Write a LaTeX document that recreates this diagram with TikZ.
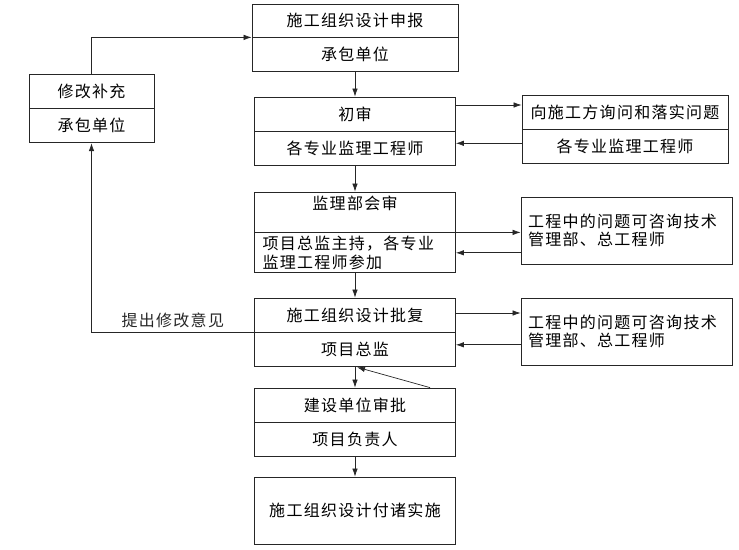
\documentclass[tikz,border=0pt]{standalone}
\usepackage{fontspec}
\usepackage{tikz}
\usetikzlibrary{arrows.meta,positioning}
\newfontfamily\cjk[LetterSpace=8]{Noto Sans CJK SC}
\tikzset{every node/.style={font=\cjk\fontsize{16}{18.5}\selectfont}}
\colorlet{boxcol}{black!85}
\colorlet{arrowcol}{black!85}
\colorlet{textcol}{black}
\tikzset{
  cell/.style={draw=boxcol, line width=0.8pt, minimum width=201pt,
    minimum height=34pt, inner sep=0pt, text=textcol},
  arr/.style={-{Latex[length=8pt,width=5.5pt]}, line width=0.7pt, arrowcol},
}

\begin{document}
\begin{tikzpicture}[x=1pt, y=-1pt]
  \useasboundingbox (0,0) rectangle (739,549);

  % Main column.
  \node[cell, minimum width=206pt, minimum height=33pt] (a1) at (355,20.5) {施工组织设计申报};
  \node[cell, minimum width=206pt, below=0pt of a1] (a2) {承包单位};

  \node[cell] (b1) at (355,114) {初审};
  \node[cell, below=0pt of b1] (b2) {各专业监理工程师};

  \node[cell, minimum height=40pt] (c1) at (355,212) {};
  \node (c1t) at (355,203) {监理部会审};
  \node[cell, minimum height=40pt, below=0pt of c1, text width=185pt,
    inner xsep=8pt, align=left] (c2) {项目总监主持，各专业\\监理工程师参加};

  \node[cell] (d1) at (355,315) {施工组织设计批复};
  \node[cell, below=0pt of d1] (d2) {项目总监};

  \node[cell] (e1) at (355,405) {建设单位审批};
  \node[cell, below=0pt of e1] (e2) {项目负责人};

  \node[cell, minimum height=67pt] (f) at (355,510.5) {施工组织设计付诸实施};

  % Right column.
  \node[cell, minimum width=206pt] (r1a) at (625,112) {向施工方询问和落实问题};
  \node[cell, minimum width=206pt, below=0pt of r1a] (r1b) {各专业监理工程师};
  \node[cell, minimum height=67pt, text width=197pt, inner xsep=7pt,
    align=left] (r2) at (626.5,230.5) {工程中的问题可咨询技术\\管理部、总工程师};
  \node[cell, minimum height=67pt, text width=197pt, inner xsep=7pt,
    align=left] (r3) at (626.5,331.5) {工程中的问题可咨询技术\\管理部、总工程师};

  % Left box.
  \node[cell, minimum width=125pt] (l1) at (91.5,91) {修改补充};
  \node[cell, minimum width=125pt, below=0pt of l1] (l2) {承包单位};

  % Main flow.
  \draw[arr] (a2) -- (b1);
  \draw[arr] (b2) -- (c1);
  \draw[arr] (c2) -- (d1);
  \draw[arr] (d2) -- (e1);
  \draw[arr] (e2) -- (f);
  \draw[arr] ([xshift=75pt]e1.north) -- ([xshift=2pt]d2.south);

  % Side queries.
  \coordinate (b1o) at ([yshift=9pt]b1.east);
  \coordinate (r1i) at ([yshift=3.5pt]r1b.west);
  \draw[arr] (b1o) -- (b1o -| r1a.west);
  \draw[arr] (r1i) -- (r1i -| b2.east);

  \draw[arr] (c2.north east) -- (c2.north east -| r2.west);
  \draw[arr] (r2.west |- c2.east) -- (c2.east);

  \coordinate (d1o) at ([yshift=2pt]d1.east);
  \coordinate (d2i) at ([yshift=5pt]d2.east);
  \draw[arr] (d1o) -- (d1o -| r3.west);
  \draw[arr] (d2i -| r3.west) -- (d2i);

  % Feedback loop.
  \draw[arr] (d1.south west) -| node[pos=0.25, above=1pt] (fbtxt) {提出修改意见} (l2.south);
  \draw[arr] (l1.north) |- (a1.south west);

\end{tikzpicture}
\end{document}
